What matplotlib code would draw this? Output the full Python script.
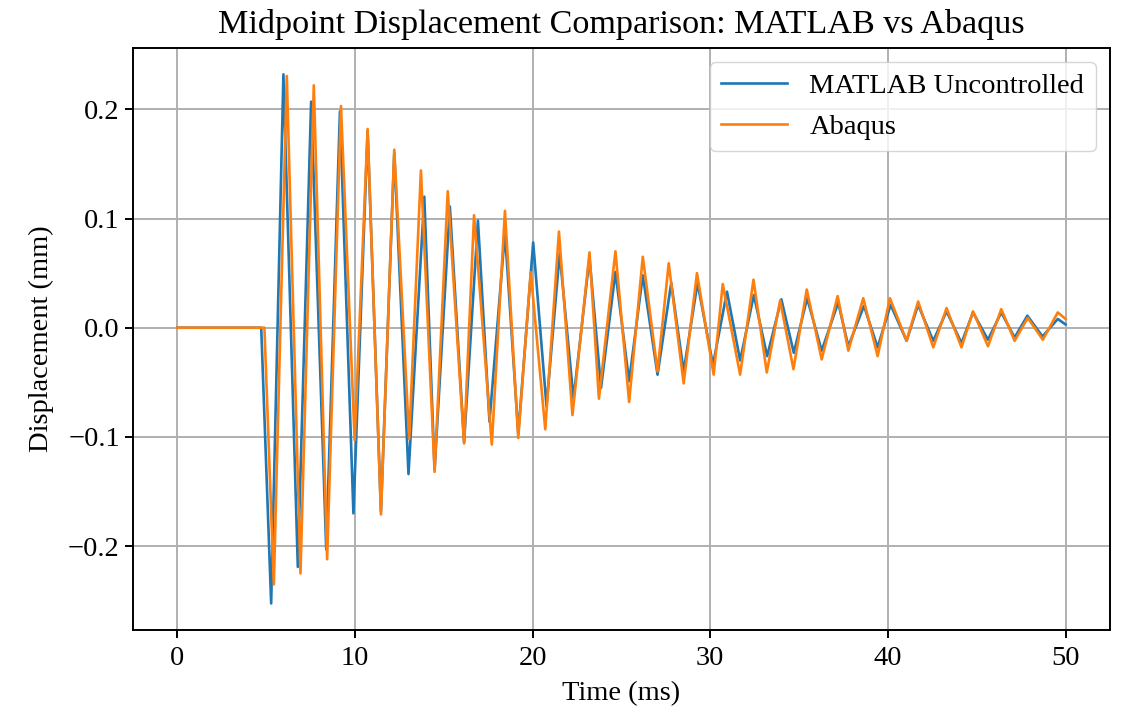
import matplotlib
matplotlib.use("Agg")
import matplotlib.pyplot as plt

# peak / trough readings (time in ms, displacement in mm)
matlab_t = [0, 4.72, 5.28, 5.97, 6.78, 7.53, 8.38, 9.15, 9.91, 10.71, 11.46, 12.21,
            13.01, 13.9, 14.48, 15.34, 16.14, 16.92, 17.57, 18.44, 19.19, 20.03,
            20.78, 21.52, 22.3, 23.2, 23.85, 24.66, 25.43, 26.2, 27.03, 27.8, 28.5,
            29.28, 30.15, 30.94, 31.68, 32.45, 33.2, 34.0, 34.7, 35.45, 36.27, 37.2,
            37.77, 38.65, 39.42, 40.15, 41.05, 41.7, 42.55, 43.3, 44.14, 44.79,
            45.63, 46.38, 47.13, 47.85, 48.7, 49.56, 50.0]
matlab_disp = [0, 0, -0.2525, 0.232, -0.219, 0.207, -0.203, 0.198, -0.170, 0.180,
               -0.168, 0.160, -0.134, 0.120, -0.130, 0.111, -0.105, 0.098, -0.086,
               0.087, -0.097, 0.078, -0.072, 0.068, -0.065, 0.064, -0.055, 0.051,
               -0.049, 0.048, -0.043, 0.041, -0.040, 0.041, -0.034, 0.033, -0.030,
               0.030, -0.026, 0.026, -0.023, 0.027, -0.021, 0.023, -0.017, 0.020,
               -0.018, 0.021, -0.012, 0.021, -0.012, 0.015, -0.014, 0.014, -0.011,
               0.014, -0.009, 0.011, -0.008, 0.008, 0.003]

abaqus_t = [0, 4.9, 5.43, 6.16, 6.93, 7.68, 8.43, 9.21, 9.98, 10.71, 11.46, 12.21,
            13.05, 13.71, 14.48, 15.22, 16.14, 16.7, 17.7, 18.44, 19.19, 19.89,
            20.71, 21.48, 22.24, 23.2, 23.73, 24.66, 25.43, 26.2, 27.03, 27.66,
            28.5, 29.25, 30.19, 30.7, 31.68, 32.43, 33.18, 33.93, 34.68, 35.43,
            36.27, 37.17, 37.77, 38.61, 39.42, 40.11, 41.05, 41.7, 42.55, 43.3,
            44.14, 44.79, 45.63, 46.38, 47.13, 47.87, 48.72, 49.56, 50.0]
abaqus_disp = [0, 0, -0.235, 0.2305, -0.225, 0.222, -0.212, 0.203, -0.103, 0.182,
               -0.171, 0.163, -0.102, 0.144, -0.132, 0.125, -0.106, 0.103, -0.107,
               0.107, -0.101, 0.051, -0.093, 0.088, -0.080, 0.069, -0.065, 0.070,
               -0.068, 0.065, -0.040, 0.059, -0.051, 0.050, -0.043, 0.040, -0.043,
               0.044, -0.041, 0.025, -0.038, 0.035, -0.029, 0.029, -0.021, 0.027,
               -0.026, 0.027, -0.012, 0.024, -0.018, 0.018, -0.018, 0.015, -0.017,
               0.017, -0.012, 0.009, -0.011, 0.014, 0.008]

plt.rcParams["font.family"] = ["Liberation Serif", "DejaVu Serif"]
plt.rcParams["font.size"] = 20.5

fig = plt.figure(figsize=(11.22, 7.15), dpi=100)
ax = fig.add_axes([0.1185, 0.119, 0.8708, 0.814])

ax.plot(matlab_t, matlab_disp, color="#1f77b4", linewidth=1.9, label="MATLAB Uncontrolled")
ax.plot(abaqus_t, abaqus_disp, color="#ff7f0e", linewidth=1.9, label="Abaqus")

ax.set_title("Midpoint Displacement Comparison: MATLAB vs Abaqus", fontsize=24.6, pad=11)
ax.set_xlabel("Time (ms)", labelpad=7.5)
ax.set_ylabel("Displacement (mm)", labelpad=10)
ax.set_xticks([0, 10, 20, 30, 40, 50])
ax.set_yticks([-0.2, -0.1, 0.0, 0.1, 0.2])
ax.grid(True, linewidth=1.4, color="#b0b0b0")
ax.tick_params(length=6, width=1.4)
ax.tick_params(axis="x", pad=5.5)
for s in ax.spines.values():
    s.set_linewidth(1.4)
ax.legend(loc="upper right", handlelength=2.3, borderaxespad=0.5)

fig.savefig("out.png", dpi=100)
